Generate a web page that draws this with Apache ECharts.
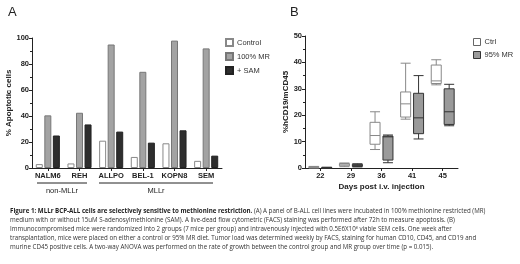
<!DOCTYPE html>
<html>
<head>
<meta charset="utf-8">
<script src="https://cdn.jsdelivr.net/npm/echarts@6/dist/echarts.min.js"></script>
<style>
html,body{margin:0;padding:0;background:#fff;}
#chart{width:520px;height:264px;}
</style>
</head>
<body>
<div id="chart"></div>
<script type="text/javascript">
// panel A: apoptosis per cell line
var cellLines = ['NALM6', 'REH', 'ALLPO', 'BEL-1', 'KOPN8', 'SEM'];
var controlVals = [3, 3.5, 21, 8.5, 19, 5.5];
var mrVals = [40.5, 42.5, 95, 74, 98, 92];
var samVals = [25, 33.5, 28, 19.5, 29, 9.5];
var yTicksA = [0, 20, 40, 60, 80, 100];

// panel B: tumor load, boxes as [min, Q1, median, Q3, max]
var days = ['22', '29', '36', '41', '45'];
var ctrlBoxes = [
    [0, 0.1, 0.3, 0.5, 0.6],
    [0.5, 0.8, 1.2, 1.7, 1.9],
    [7, 9, 12.3, 17.3, 21.3],
    [18.5, 19.3, 24.3, 28.8, 39.7],
    [31.5, 32, 33, 39, 41]
];
var mrBoxes = [
    [0, 0, 0.1, 0.2, 0.3],
    [0.4, 0.6, 1, 1.4, 1.6],
    [2, 3, 11.8, 12.1, 12.5],
    [11, 13, 19, 28.3, 35],
    [16, 16.5, 21.3, 30, 31.7]
];
var yTicksB = [0, 10, 20, 30, 40, 50];

var captionLines = [
    '{b|Figure 1: MLLr BCP-ALL cells are selectively sensitive to methionine restriction.} (A) A panel of B-ALL cell lines were incubated in 100% methionine restricted (MR)',
    'medium with or without 15uM S-adenosylmethionine (SAM). A live-dead flow cytometric (FACS) staining was performed after 72h to measure apoptosis. (B)',
    'Immunocompromised mice were randomized into 2 groups (7 mice per group) and intravenously injected with 0.5E6X10\u2076 viable SEM cells. One week after',
    'transplantation, mice were placed on either a control or 95% MR diet. Tumor load was determined weekly by FACS, staining for human CD10, CD45, and CD19 and',
    'murine CD45 positive cells. A two-way ANOVA was performed on the rate of growth between the control group and MR group over time (p = 0.015).'
];

var chart = echarts.init(document.getElementById('chart'));
var FONT = '"Liberation Sans", Arial, sans-serif';
var axisLine = {show: true, lineStyle: {color: '#222', width: 1}};
var axisTick = {show: true, length: 3, lineStyle: {color: '#222'}};
var minorTick = {show: true, splitNumber: 2, length: 2, lineStyle: {color: '#222'}};
var tickLabel = {color: '#222', fontSize: 7.5, fontWeight: 'bold', fontFamily: FONT, margin: 3};
var legendText = {fontSize: 7.5, color: '#333', fontFamily: FONT, padding: [0, 0, 0, -1]};

var graphics = [
    {type: 'text', left: 8, top: 6, style: {text: 'A', fontSize: 13, fontFamily: FONT, fill: '#222'}},
    {type: 'text', left: 290, top: 6, style: {text: 'B', fontSize: 13, fontFamily: FONT, fill: '#222'}},
    // group brackets
    {type: 'line', shape: {x1: 37, y1: 183, x2: 87, y2: 183}, style: {stroke: '#222', lineWidth: 1}},
    {type: 'line', shape: {x1: 99, y1: 183, x2: 213, y2: 183}, style: {stroke: '#222', lineWidth: 1}},
    {type: 'text', x: 62, y: 187, style: {text: 'non-MLLr', align: 'center', fontSize: 7.5, fontFamily: FONT, fill: '#222'}},
    {type: 'text', x: 156, y: 187, style: {text: 'MLLr', align: 'center', fontSize: 7.5, fontFamily: FONT, fill: '#222'}}
];
for (var i = 0; i < captionLines.length; i++) {
    graphics.push({
        type: 'text', x: 10, y: 208 + i * 9,
        style: {
            text: captionLines[i], fontSize: 6.2, fontFamily: '"Open Sans", sans-serif', fill: '#333',
            rich: {b: {fontSize: 6.2, fontWeight: 'bold', fontFamily: '"Open Sans", sans-serif', fill: '#222'}}
        }
    });
}

var option = {
    animation: false,
    backgroundColor: '#fff',
    textStyle: {fontFamily: FONT},
    grid: [
        {left: 32, top: 38, width: 190, height: 130},
        {left: 305, top: 36, width: 153, height: 132}
    ],
    legend: [
        {
            data: ['Control', '100% MR', '+ SAM'], orient: 'vertical', left: 225, top: 38, padding: 0,
            itemWidth: 7, itemHeight: 7, itemGap: 5, icon: 'rect', textStyle: legendText
        },
        {
            data: [
                {name: 'Ctrl', itemStyle: {color: '#fff', borderColor: '#666', borderWidth: 1}},
                {name: '95% MR', itemStyle: {color: '#9a9a9a', borderColor: '#333', borderWidth: 1}}
            ],
            orient: 'vertical', left: 473, top: 38, padding: 0,
            itemWidth: 7, itemHeight: 7, itemGap: 5, icon: 'rect', textStyle: legendText
        }
    ],
    xAxis: [
        {
            type: 'category', gridIndex: 0, data: cellLines,
            axisLine: axisLine, axisTick: {show: true, length: 3, alignWithLabel: true, lineStyle: {color: '#222'}},
            axisLabel: {color: '#222', fontSize: 7.5, fontWeight: 'bold', fontFamily: FONT, margin: 4, interval: 0}
        },
        {
            type: 'category', gridIndex: 1, data: days,
            axisLine: axisLine, axisTick: {show: true, length: 3, alignWithLabel: true, lineStyle: {color: '#222'}},
            axisLabel: {color: '#222', fontSize: 7.5, fontWeight: 'bold', fontFamily: FONT, margin: 4},
            name: 'Days post i.v. injection', nameLocation: 'middle', nameGap: 15,
            nameTextStyle: {color: '#222', fontSize: 8, fontWeight: 'bold', fontFamily: FONT}
        }
    ],
    yAxis: [
        {
            type: 'value', gridIndex: 0, min: yTicksA[0], max: yTicksA[yTicksA.length - 1], interval: 20,
            axisLine: axisLine, axisTick: axisTick, minorTick: minorTick, splitLine: {show: false},
            axisLabel: tickLabel,
            name: '% Apoptotic cells', nameLocation: 'middle', nameGap: 16, nameRotate: 90,
            nameTextStyle: {color: '#222', fontSize: 8, fontWeight: 'bold', fontFamily: FONT}
        },
        {
            type: 'value', gridIndex: 1, min: yTicksB[0], max: yTicksB[yTicksB.length - 1], interval: 10,
            axisLine: axisLine, axisTick: axisTick, minorTick: minorTick, splitLine: {show: false},
            axisLabel: tickLabel,
            name: '%hCD19/mCD45', nameLocation: 'middle', nameGap: 15, nameRotate: 90,
            nameTextStyle: {color: '#222', fontSize: 8, fontWeight: 'bold', fontFamily: FONT}
        }
    ],
    series: [
        {
            name: 'Control', type: 'bar', xAxisIndex: 0, yAxisIndex: 0, data: controlVals,
            barWidth: 7, barGap: '22%',
            itemStyle: {color: '#fff', borderColor: '#888', borderWidth: 1}
        },
        {
            name: '100% MR', type: 'bar', xAxisIndex: 0, yAxisIndex: 0, data: mrVals,
            barWidth: 7, barGap: '22%',
            itemStyle: {color: '#a3a3a3', borderColor: '#777', borderWidth: 1}
        },
        {
            name: '+ SAM', type: 'bar', xAxisIndex: 0, yAxisIndex: 0, data: samVals,
            barWidth: 7, barGap: '22%',
            itemStyle: {color: '#2e2e2e', borderColor: '#222', borderWidth: 1}
        },
        {
            name: 'Ctrl', type: 'boxplot', xAxisIndex: 1, yAxisIndex: 1, data: ctrlBoxes,
            boxWidth: [10, 10],
            itemStyle: {color: '#fff', borderColor: '#888', borderWidth: 1}
        },
        {
            name: '95% MR', type: 'boxplot', xAxisIndex: 1, yAxisIndex: 1, data: mrBoxes,
            boxWidth: [10, 10],
            itemStyle: {color: '#9a9a9a', borderColor: '#333', borderWidth: 1}
        }
    ],
    graphic: graphics
};

chart.setOption(option);
</script>
</body>
</html>
